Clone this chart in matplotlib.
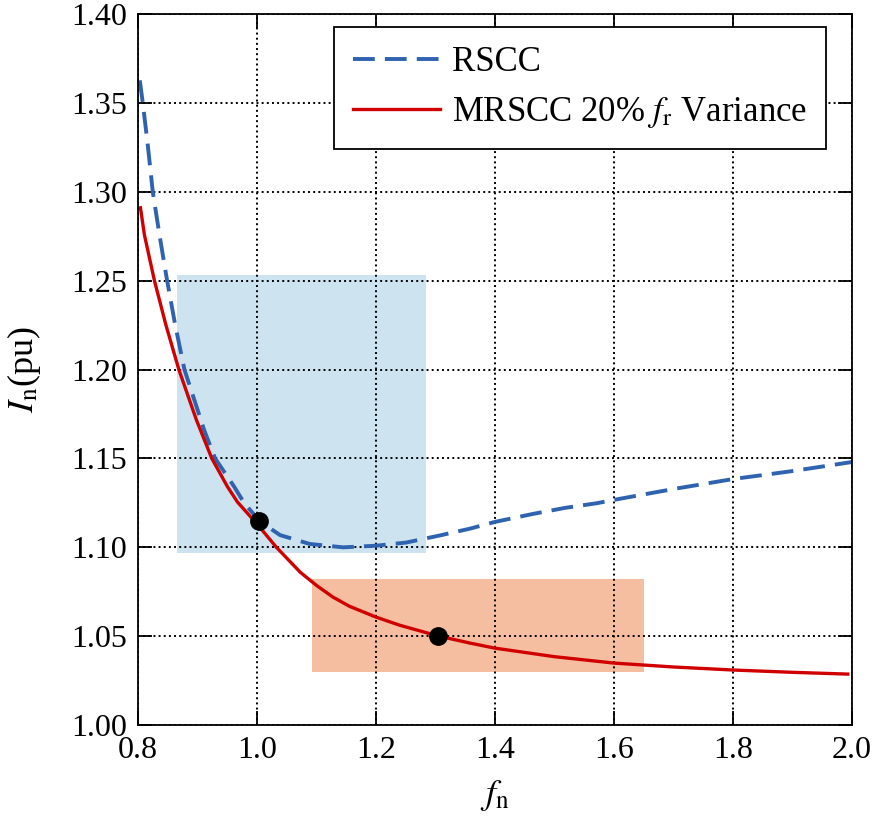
import numpy as np
import matplotlib
matplotlib.use('Agg')
import matplotlib.pyplot as plt

plt.rcParams['font.family'] = ['Liberation Serif', 'DejaVu Serif']
plt.rcParams['mathtext.fontset'] = 'stix'

#%% datos
rscc_fn = [0.8034, 0.8084, 0.8168, 0.8252, 0.8364, 0.8493, 0.8627, 0.8784, 0.9115, 0.930,
           0.962, 0.979, 1.003, 1.0263, 1.039, 1.089, 1.145, 1.20, 1.251, 1.305, 1.358, 1.40,
           1.464, 1.518, 1.571, 1.60, 1.70, 1.80, 1.90, 2.00]
rscc_in = [1.3627, 1.350, 1.3263, 1.300, 1.2759, 1.250, 1.2254, 1.200, 1.166, 1.150,
           1.1341, 1.1248, 1.1155, 1.1098, 1.1069, 1.1019, 1.1000, 1.1009, 1.1027, 1.1065, 1.1105, 1.1143,
           1.1188, 1.1222, 1.1248, 1.1267, 1.1328, 1.1384, 1.1429, 1.148]

mrscc_fn = [0.8045, 0.8112, 0.828, 0.847, 0.869, 0.8986, 0.9244, 0.9507, 0.9675, 1.002, 1.033,
            1.073, 1.1006, 1.128, 1.156, 1.20, 1.240, 1.304, 1.3575, 1.40, 1.50, 1.60, 1.70,
            1.80, 1.90, 1.993]
mrscc_in = [1.291, 1.2757, 1.250, 1.2254, 1.200, 1.1716, 1.150, 1.1341, 1.1255, 1.1125, 1.100,
            1.086, 1.0785, 1.072, 1.0668, 1.0608, 1.0562, 1.0502, 1.0462, 1.0433, 1.0385, 1.0349, 1.0327,
            1.031, 1.0297, 1.0287]

# zonas sombreadas: (fn min, fn max, In min, In max)
zona_rscc = [0.866, 1.284, 1.097, 1.253]
zona_mrscc = [1.092, 1.650, 1.030, 1.082]

# puntos de operacion
punto_fn = [1.003, 1.304]
punto_in = [1.115, 1.050]

#%% grafico
fig = plt.figure(figsize=(8.72, 8.24), dpi=100)
ax = fig.add_axes([0.158, 0.120, 0.819, 0.863])

ax.fill_between([zona_rscc[0], zona_rscc[1]], zona_rscc[2], zona_rscc[3],
                color='#cde3f0', lw=0, zorder=0.2)
ax.fill_between([zona_mrscc[0], zona_mrscc[1]], zona_mrscc[2], zona_mrscc[3],
                color='#f5bea0', lw=0, zorder=0.2)

ax.plot(rscc_fn, rscc_in, color='#2f63b0', lw=2.8, dashes=(5.6, 2.6), label='RSCC', zorder=2)
ax.plot(mrscc_fn, mrscc_in, color='#d00000', lw=2.4,
        label=r'MRSCC 20% $f_\mathrm{r}$ Variance', zorder=2)
ax.plot(punto_fn, punto_in, 'o', color='black', ms=12.5, zorder=3)

ax.set_xlim(0.8, 2.0)
ax.set_ylim(1.0, 1.4)
ax.set_xticks(np.arange(0.8, 2.01, 0.2))
ax.set_yticks(np.arange(1.0, 1.401, 0.05))
ax.set_xticklabels(['0.8', '1.0', '1.2', '1.4', '1.6', '1.8', '2.0'])
ax.set_yticklabels(['%.2f' % v for v in np.arange(1.0, 1.401, 0.05)])
ax.tick_params(direction='in', length=10, width=1.3, labelsize=23, pad=8,
               top=True, right=True)
ax.grid(True, color='black', linestyle=':', lw=1.4)
for s in ax.spines.values():
    s.set_linewidth(1.3)

ax.set_xlabel(r'$f_\mathrm{n}$', fontsize=26, labelpad=9)
ax.set_ylabel(r'$I_\mathrm{n}$(pu)', fontsize=26, labelpad=20)

leg = ax.legend(loc='upper right', bbox_to_anchor=(0.9636, 0.9817), borderaxespad=0,
                fontsize=25, frameon=True, fancybox=False,
                edgecolor='black', framealpha=1, handlelength=2.5, handletextpad=0.35,
                borderpad=0.55, labelspacing=0.45)
leg.get_frame().set_linewidth(1.3)

fig.savefig('out.png', dpi=100)
